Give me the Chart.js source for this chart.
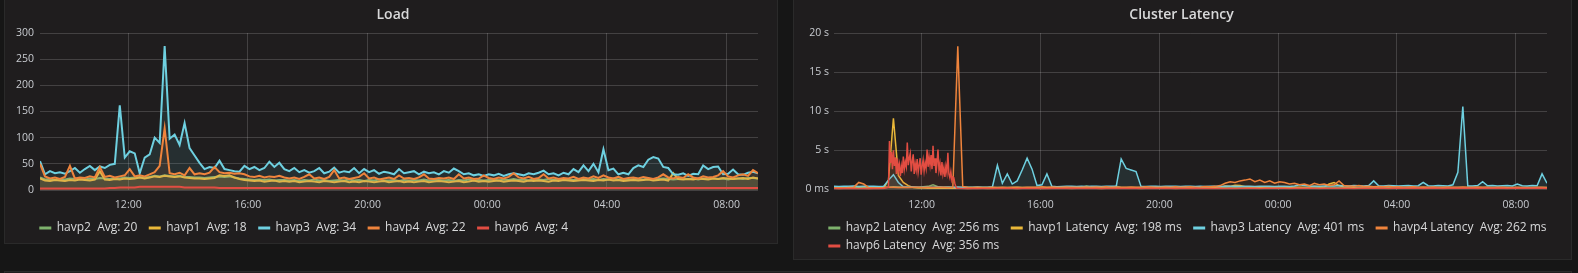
<!DOCTYPE html>
<html><head><meta charset="utf-8">
<script src="https://cdn.jsdelivr.net/npm/chart.js@4.4.1/dist/chart.umd.min.js"></script>
<style>
html,body{margin:0;padding:0;background:#161616;width:1578px;height:273px;overflow:hidden;}
.panel{position:absolute;background:#1f1d1e;border:1px solid #2a2a2a;box-sizing:border-box;}
canvas{position:absolute;top:0;}
</style></head><body>
<div class="panel" style="left:4px;top:-1px;width:774px;height:245px"></div>
<div class="panel" style="left:793px;top:-1px;width:779px;height:261px"></div>
<div class="panel" style="left:4px;top:271px;width:1568px;height:10px"></div>
<canvas id="load" width="774" height="243" style="left:4px"></canvas>
<canvas id="lat" width="779" height="259" style="left:793px"></canvas>
<script>
// ---- time axis (minutes since 00:00 of the first day) ----
const START_MIN = 543;   // 09:03
const STEP_MIN = 10;
const RANGE_MIN = 1440;
const xTickValues = [720, 960, 1200, 1440, 1680, 1920];
const xTickLabels = ['12:00', '16:00', '20:00', '00:00', '04:00', '08:00'];

// ---- y ticks ----
const loadYTickValues = [0, 50, 100, 150, 200, 250, 300];
const loadYTickLabels = ['0', '50', '100', '150', '200', '250', '300'];
const latYTickValues = [0, 5, 10, 15, 20];            // seconds
const latYTickLabels = ['0 ms', '5 s', '10 s', '15 s', '20 s'];

// ---- series names / legend values ----
const loadNames = ['havp2', 'havp1', 'havp3', 'havp4', 'havp6'];
const loadAvgLabels = ['20', '18', '34', '22', '4'];
const latNames = ['havp2 Latency', 'havp1 Latency', 'havp3 Latency', 'havp4 Latency', 'havp6 Latency'];
const latAvgLabels = ['256 ms', '198 ms', '401 ms', '262 ms', '356 ms'];
const seriesColors = ['#7EB26D', '#EAB839', '#6ED0E0', '#EF843C', '#E24D42'];

// ---- Load values (one every 10 min from 09:03) ----
const loadHavp2 = [
24,20,21,19,21,20,22,21,22,20, 22,21,23,22,21,23,22,24,23,24,
25,24,25,27,26,28,27,26,27,25, 25,24,24,23,24,25,26,25,26,24,
22,21,20,19,20,19,20,18,19,19, 18,19,17,19,18,20,18,19,17,18,
19,18,20,18,19,17,19,18,20,18, 18,19,17,19,18,19,18,20,18,19,
19,18,19,17,19,18,20,18,19,18, 19,20,18,20,19,21,19,20,18,20,
20,19,21,19,20,21,20,19,21,21, 20,21,19,21,20,22,20,21,19,21,
21,20,22,20,21,22,21,20,21,22, 21,22,20,22,21,23,21,22,20,22,
22,21,23,23,22];
const loadHavp1 = [
22,18,17,19,18,17,19,18,20,19, 18,20,36,20,19,21,20,22,21,22,
24,22,24,26,25,27,26,25,26,24, 23,22,22,21,22,23,28,27,28,24,
21,19,18,17,18,16,17,18,16,17, 16,17,15,16,17,16,15,17,16,15,
16,17,15,16,15,17,16,15,16,17, 15,16,17,15,16,15,16,17,15,16,
17,16,15,16,17,15,16,18,16,17, 16,17,18,16,17,18,17,16,18,17,
18,17,16,18,17,19,18,17,18,19, 18,17,19,18,20,18,19,17,18,19,
18,19,20,18,19,20,18,32,21,20, 21,20,22,21,20,22,21,23,22,21,
22,23,21,24,22];
const loadHavp3 = [
55,30,36,32,34,31,36,42,33,40, 46,38,45,42,48,50,162,62,74,70,
32,62,68,100,90,275,98,106,86,128, 80,66,52,40,44,42,56,40,38,36,
35,46,40,44,38,42,54,44,52,40, 36,42,34,38,33,36,42,32,35,43,
33,36,34,42,32,40,34,38,31,35, 33,30,40,32,34,36,30,35,32,34,
30,36,33,41,36,30,32,28,30,27, 30,28,31,27,30,32,30,28,32,30,
33,37,30,32,28,33,30,40,34,47, 36,50,34,78,38,41,30,33,30,42,
47,44,58,63,60,44,42,30,29,32, 27,31,30,47,40,44,45,30,31,39,
30,29,33,35,32];
const loadHavp4 = [
50,26,22,24,21,25,46,22,24,23, 26,24,44,25,27,24,26,28,40,26,
28,26,30,34,46,118,32,30,33,28, 42,30,32,30,33,44,34,32,33,31,
32,30,26,25,27,24,26,25,27,24, 22,24,21,25,30,22,24,21,25,38,
22,24,21,23,25,32,22,24,20,22, 24,21,28,22,23,21,24,30,22,21,
23,22,24,21,30,22,24,21,22,28, 23,21,24,22,25,32,24,22,25,21,
23,30,22,24,21,23,22,25,21,24, 22,26,23,28,24,22,25,21,23,24,
22,25,23,21,24,30,24,22,25,23, 30,24,22,26,24,25,28,36,26,24,
28,30,27,38,32];
const loadHavp6 = [
3,3,3,3,3,3,3,3,3,3, 3,3,3,3,4,4,5,5,5,5,
6,6,6,6,6,6,6,6,6,5, 5,5,5,5,5,5,4,4,4,4,
4,4,4,4,4,4,4,4,4,4, 4,4,4,4,4,4,4,4,4,4,
4,4,4,4,4,4,4,4,4,4, 4,4,4,4,4,4,4,4,4,4,
4,4,4,4,4,4,4,4,4,4, 4,4,4,4,4,4,4,4,4,4,
4,4,4,4,4,4,4,4,4,4, 4,4,4,4,4,4,4,4,4,4,
4,4,4,4,4,4,4,4,4,4, 4,4,4,4,4,4,4,4,4,4,
4,4,4,4,4];

// ---- Latency values in seconds (one every 10 min from 09:03) ----
const latHavp2 = [
0.25,0.23,0.26,0.24,0.27,0.25,0.30,0.26,0.24,0.25, 0.28,0.30,0.35,0.32,0.30,0.28,0.32,0.30,0.35,0.40,
0.60,0.35,0.30,0.32,0.28,0.26,0.25,0.24,0.26,0.25, 0.24,0.26,0.25,0.27,0.24,0.25,0.26,0.28,0.25,0.26,
0.24,0.25,0.27,0.26,0.25,0.24,0.28,0.30,0.26,0.25, 0.26,0.45,0.30,0.28,0.26,0.25,0.27,0.40,0.26,0.25,
0.24,0.26,0.25,0.23,0.25,0.26,0.24,0.25,0.26,0.24, 0.25,0.26,0.24,0.25,0.23,0.25,0.26,0.24,0.25,0.26,
0.27,0.25,0.26,0.28,0.25,0.27,0.26,0.25,0.26,0.24, 0.25,0.26,0.24,0.25,0.26,0.27,0.25,0.28,0.30,0.26,
0.25,0.26,0.24,0.25,0.30,0.26,0.25,0.24,0.26,0.25, 0.26,0.24,0.25,0.38,0.26,0.25,0.24,0.26,0.25,0.24,
0.25,0.26,0.24,0.25,0.26,0.25,0.24,0.25,0.26,0.24, 0.25,0.26,0.28,0.25,0.26,0.25,0.24,0.26,0.25,0.27,
0.26,0.25,0.27,0.26,0.25];
const latHavp1 = [
0.15,0.14,0.16,0.15,0.17,0.15,0.16,0.14,0.15,0.16, 0.15,1.2,9.1,1.8,0.9,0.5,0.25,0.20,0.18,0.17,
0.16,0.15,0.17,0.16,0.15,0.16,0.15,0.14,0.16,0.15, 0.15,0.14,0.16,0.15,0.17,0.15,0.16,0.14,0.15,0.16,
0.15,0.16,0.14,0.15,0.17,0.15,0.16,0.15,0.14,0.16, 0.15,0.17,0.16,0.15,0.14,0.16,0.15,0.17,0.15,0.16,
0.15,0.16,0.14,0.15,0.16,0.15,0.17,0.16,0.15,0.14, 0.16,0.15,0.17,0.16,0.18,0.20,0.22,0.25,0.30,0.45,
0.40,0.55,0.50,0.35,0.30,0.28,0.25,0.22,0.20,0.18, 0.20,0.22,0.25,0.30,0.28,0.25,0.30,0.40,0.35,0.30,
0.70,0.90,0.50,0.30,0.25,0.22,0.20,0.18,0.20,0.18, 0.17,0.18,0.16,0.17,0.18,0.16,0.17,0.18,0.16,0.17,
0.16,0.17,0.18,0.16,0.17,0.16,0.18,0.17,0.16,0.17, 0.18,0.16,0.17,0.18,0.16,0.17,0.18,0.16,0.17,0.16,
0.17,0.18,0.16,0.17,0.16];
const latHavp3 = [
0.40,0.38,0.42,0.40,0.45,0.38,0.42,0.40,0.43,0.39, 0.40,1.2,1.9,0.9,0.35,0.30,0.32,0.30,0.28,0.30,
0.30,0.32,0.30,0.28,0.30,0.32,0.30,0.28,0.30,0.32, 0.30,0.28,0.35,3.1,0.8,2.0,0.7,1.1,2.5,4.0,
2.6,0.5,0.6,2.0,0.4,0.35,0.38,0.40,0.42,0.38, 0.40,0.38,0.42,0.40,0.38,0.40,0.42,0.40,3.9,2.7,
2.5,2.3,0.40,0.38,0.42,0.40,0.38,0.40,0.42,0.40, 0.38,0.40,0.42,0.38,0.40,0.38,0.42,0.40,0.38,0.40,
0.42,0.40,0.38,0.40,0.42,0.38,0.40,0.42,0.40,0.38, 0.40,0.42,0.38,0.45,0.60,0.50,0.45,0.40,0.42,0.45,
0.48,0.45,0.50,0.48,0.45,0.50,0.48,0.45,0.50,1.1, 0.48,0.45,0.50,0.47,0.45,0.48,0.50,0.45,0.48,0.9,
0.48,0.45,0.50,0.48,0.45,0.6,2.2,10.6,0.45,0.45, 0.50,1.0,0.48,0.50,0.45,0.48,0.50,0.45,0.70,0.48,
0.45,0.50,0.48,2.0,0.8];
const latHavp4 = [
0.20,0.22,0.18,0.25,0.30,0.90,0.70,0.25,0.20,0.22, 0.25,0.30,0.28,0.25,0.30,0.26,0.28,0.30,0.25,0.28,
0.26,0.30,0.28,0.25,0.27,18.3,0.40,0.30,0.26,0.28, 0.25,0.27,0.30,0.26,0.28,0.25,0.30,0.28,0.26,0.30,
0.28,0.30,0.35,0.30,0.32,0.28,0.30,0.33,0.28,0.30, 0.30,0.32,0.28,0.33,0.30,0.35,0.30,0.32,0.28,0.30,
0.32,0.28,0.30,0.35,0.33,0.30,0.28,0.32,0.30,0.34, 0.30,0.32,0.35,0.30,0.33,0.38,0.35,0.40,0.50,0.80,
1.0,0.9,1.1,1.2,1.35,1.0,1.2,0.9,1.1,0.8, 1.0,0.9,0.7,0.8,0.6,0.7,0.5,0.8,0.6,0.7,
0.5,0.6,1.1,0.5,0.45,0.40,0.50,0.38,0.40,0.35, 0.38,0.35,0.40,0.33,0.35,0.30,0.32,0.35,0.30,0.33,
0.30,0.32,0.28,0.30,0.32,0.28,0.30,0.33,0.28,0.30, 0.32,0.28,0.30,0.26,0.28,0.30,0.27,0.25,0.28,0.26,
0.27,0.25,0.28,0.30,0.26];
const latHavp6 = [
0.12,0.10,0.13,0.11,0.12,0.10,0.13,0.11,0.12,0.10, 0.13,6.2,4.8,2.6,4.2,6.0,4.4,2.7,3.8,5.2,
5.6,3.1,5.1,4.6,2.2,0.15,0.12,0.10,0.13,0.11, 0.12,0.14,0.11,0.13,0.12,0.15,0.12,0.11,0.13,0.12,
0.14,0.12,0.13,0.11,0.12,0.14,0.12,0.13,0.15,0.12, 0.13,0.12,0.14,0.12,0.11,0.13,0.12,0.14,0.13,0.12,
0.12,0.14,0.13,0.12,0.15,0.13,0.12,0.14,0.12,0.13, 0.14,0.12,0.13,0.15,0.12,0.14,0.13,0.12,0.15,0.14,
0.16,0.14,0.15,0.17,0.15,0.16,0.14,0.15,0.17,0.15, 0.16,0.15,0.14,0.16,0.15,0.17,0.15,0.16,0.14,0.15,
0.16,0.15,0.17,0.15,0.16,0.14,0.15,0.16,0.15,0.17, 0.15,0.16,0.14,0.15,0.16,0.15,0.17,0.15,0.16,0.14,
0.15,0.16,0.15,0.14,0.16,0.15,0.17,0.15,0.16,0.15, 0.14,0.16,0.15,0.17,0.15,0.16,0.14,0.15,0.16,0.15,
0.17,0.15,0.16,0.15,0.14];
// finer havp6 latency readings during the 10:53-13:11 burst (every 2 min)
const BURST_START_MIN = 653;
const BURST_STEP_MIN = 2;
const latHavp6Burst = [
0.3,6.2,3.4,4.8,2.6,5.0,3.0,4.1,2.0,4.0, 2.4,3.2,1.7,3.0,2.1,4.2,2.6,3.5,2.9,6.0,
3.1,4.0,4.6,2.3,3.6,4.5,2.0,3.3,2.5,3.9, 2.2,3.1,4.0,1.9,3.0,3.8,2.4,3.4,2.7,5.1,
2.9,4.2,3.1,4.4,2.6,5.6,3.0,4.0,2.1,3.4, 5.1,2.5,3.3,1.8,3.5,2.0,2.8,1.6,3.0,2.2,
4.7,2.0,1.5,2.3,1.2,1.6,1.5,0.8,0.4,0.15];

// ---------------------------------------------------------------
Chart.defaults.font.family = '"Open Sans", sans-serif';
const GRID = 'rgba(255,255,255,0.16)';
const TICK = '#c8cbd0';
const TEXT = '#d8d9da';

function toPoints(values) {
  return values.map((v, i) => ({x: START_MIN + STEP_MIN * i, y: v}));
}
function withBurst(values, burst, bStart, bStep) {
  const bEnd = bStart + bStep * (burst.length - 1);
  const pts = toPoints(values).filter(p => p.x < bStart || p.x > bEnd);
  burst.forEach((v, k) => pts.push({x: bStart + bStep * k, y: v}));
  return pts.sort((a, b) => a.x - b.x);
}
function rgba(hex, a) {
  const n = parseInt(hex.slice(1), 16);
  return `rgba(${(n >> 16) & 255},${(n >> 8) & 255},${n & 255},${a})`;
}
const drawOrder = [4, 3, 2, 1, 0]; // later series drawn on top (havp6 topmost)

function makeDatasets(names, seriesPoints, width) {
  return names.map((name, i) => ({
    label: name,
    data: seriesPoints[i],
    borderColor: seriesColors[i],
    backgroundColor: rgba(seriesColors[i], 0.1),
    fill: 'origin',
    borderWidth: width,
    pointRadius: 0,
    tension: 0,
    order: drawOrder[i]
  }));
}

const gfLegend = {
  id: 'gfLegend',
  afterDraw(chart, args, opts) {
    const ctx = chart.ctx;
    ctx.save();
    ctx.font = '12px "Open Sans"';
    ctx.textBaseline = 'middle';
    ctx.textAlign = 'left';
    let x = opts.x, y = opts.y;
    chart.data.datasets.forEach((ds, i) => {
      const text = opts.texts[i];
      const w = ctx.measureText(text).width;
      if (x > opts.x && x + 17.4 + w > opts.maxX) { x = opts.x; y += opts.rowHeight; }
      ctx.fillStyle = ds.borderColor;
      ctx.fillRect(x, y - 1.5, 12, 3);
      ctx.fillStyle = TEXT;
      ctx.fillText(text, x + 17.4, y);
      x += 17.4 + w + 11.5;
    });
    ctx.restore();
  }
};

function makeChart(canvasId, cfg) {
  return new Chart(document.getElementById(canvasId), {
    type: 'line',
    data: {datasets: cfg.datasets},
    plugins: [gfLegend],
    options: {
      responsive: false,
      animation: false,
      layout: {padding: cfg.padding},
      plugins: {
        legend: {display: false},
        tooltip: {enabled: false},
        title: {
          display: true, text: cfg.title, color: TEXT,
          font: {size: 14, weight: '600'},
          padding: {top: 7, bottom: 9.2}
        },
        gfLegend: {x: 35.3, y: 228, rowHeight: 18, maxX: cfg.legendMaxX, texts: cfg.legendTexts}
      },
      scales: {
        x: {
          type: 'linear',
          min: START_MIN, max: START_MIN + RANGE_MIN,
          afterBuildTicks: s => { s.ticks = xTickValues.map(v => ({value: v})); },
          afterFit: s => { s.height = 26.5; },
          grid: {color: GRID, drawTicks: false},
          border: {display: false},
          ticks: {
            autoSkip: false, maxRotation: 0, padding: cfg.xPad, color: TICK,
            font: {size: 10.5},
            callback: (v, idx) => xTickLabels[idx]
          }
        },
        y: {
          type: 'linear',
          position: 'left',
          min: cfg.yTicks[0], max: cfg.yTicks[cfg.yTicks.length - 1],
          afterBuildTicks: s => { s.ticks = cfg.yTicks.map(v => ({value: v})); },
          afterFit: s => { s.width = cfg.yWidth; },
          grid: {color: GRID, drawTicks: false},
          border: {display: false},
          ticks: {
            padding: cfg.yPad, color: TICK, font: {size: 10.5},
            callback: (v, idx) => cfg.yLabels[idx]
          }
        },
        // empty right-hand gutter so the panel title stays centred on the panel
        gutter: {
          type: 'linear',
          position: 'right',
          display: true,
          grid: {display: false, drawTicks: false},
          border: {display: false},
          ticks: {display: false},
          afterFit: s => { s.width = cfg.rightGutter; }
        }
      }
    }
  });
}

makeChart('load', {
  title: 'Load',
  datasets: makeDatasets(loadNames,
    [loadHavp2, loadHavp1, loadHavp3, loadHavp4, loadHavp6].map(toPoints), 2),
  padding: {left: 4, right: 0, top: 0, bottom: 26.5},
  yWidth: 32, yPad: 6, xPad: 8.7, rightGutter: 20,
  yTicks: loadYTickValues, yLabels: loadYTickLabels,
  legendTexts: loadNames.map((n, i) => n + '  Avg: ' + loadAvgLabels[i]),
  legendMaxX: 760
});

makeChart('lat', {
  title: 'Cluster Latency',
  datasets: makeDatasets(latNames, [
    toPoints(latHavp2), toPoints(latHavp1), toPoints(latHavp3), toPoints(latHavp4),
    withBurst(latHavp6, latHavp6Burst, BURST_START_MIN, BURST_STEP_MIN)
  ], 1.5),
  padding: {left: 4, right: 6, top: 0, bottom: 43},
  yWidth: 37, yPad: 5, xPad: 9.2, rightGutter: 19,
  yTicks: latYTickValues, yLabels: latYTickLabels,
  legendTexts: latNames.map((n, i) => n + '  Avg: ' + latAvgLabels[i]),
  legendMaxX: 765
});
</script></body></html>
